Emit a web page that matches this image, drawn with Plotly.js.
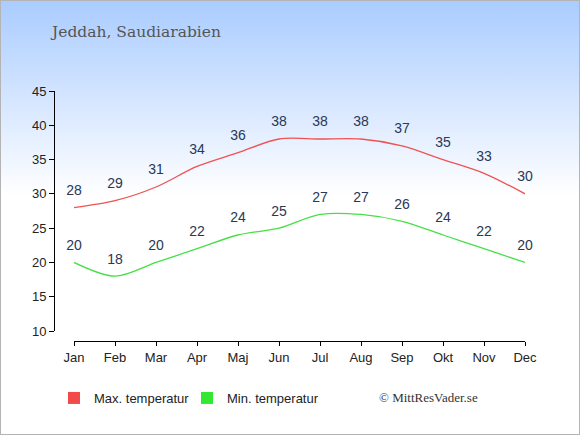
<!DOCTYPE html>
<html>
<head>
<meta charset="utf-8">
<script src="https://cdn.plot.ly/plotly-3.0.1.min.js"></script>
<style>
  html, body { margin: 0; padding: 0; }
  #bg { position: absolute; left: 0; top: 0; width: 580px; height: 435px; box-sizing: border-box;
        border: 1px solid #b4b4b4; background: linear-gradient(to bottom, #aaccff 0px, #ffffff 195px, #ffffff 435px); }
  #chart { position: absolute; left: 0; top: 0; width: 580px; height: 435px; }
</style>
</head>
<body>
<div id="bg"></div>
<div id="chart"></div>
<script>
const months = ["Jan","Feb","Mar","Apr","Maj","Jun","Jul","Aug","Sep","Okt","Nov","Dec"];
const maxTemp = [28, 29, 31, 34, 36, 38, 38, 38, 37, 35, 33, 30];
const minTemp = [20, 18, 20, 22, 24, 25, 27, 27, 26, 24, 22, 20];
const yTicks = [10, 15, 20, 25, 30, 35, 40, 45];
const titleText = "Jeddah, Saudiarabien";
const seriesNames = ["Max. temperatur", "Min. temperatur"];
const creditText = "© MittResVader.se";

const redLine = "#f05252", greenLine = "#46e046";
const redBox = "#f04a4a", greenBox = "#33e833";
const labelFont = {family: "Liberation Sans, Arial, sans-serif", size: 14, color: "#2a3855"};

function lineTrace(vals, color, name) {
  return {
    type: "scatter", x: months, y: vals, mode: "lines+markers+text",
    text: vals.map(String), textposition: "top center", textfont: labelFont,
    line: {color: color, width: 1.3, shape: "spline", smoothing: 0.9},
    marker: {size: 13, opacity: 0, color: color},
    showlegend: false, cliponaxis: false, name: name
  };
}
function legendTrace(color, name) {
  return {type: "bar", x: [months[0]], y: [null], name: name, marker: {color: color}, showlegend: true};
}

const data = [
  lineTrace(maxTemp, redLine, seriesNames[0]),
  lineTrace(minTemp, greenLine, seriesNames[1]),
  legendTrace(redBox, seriesNames[0]),
  legendTrace(greenBox, seriesNames[1])
];

const axisFont = {family: "Liberation Sans, Arial, sans-serif", size: 13, color: "#222"};
const layout = {
  width: 580, height: 435,
  paper_bgcolor: "rgba(0,0,0,0)", plot_bgcolor: "rgba(0,0,0,0)",
  margin: {l: 54, r: 55, t: 91, b: 94},
  title: {text: titleText, xref: "container", yref: "container", x: 52/580, xanchor: "left",
          y: 1 - 32/435, yanchor: "middle",
          font: {family: "DejaVu Serif, serif", size: 15.5, color: "#555"}},
  xaxis: {type: "category", range: [0, 11], domain: [20/471, 1], anchor: "free", position: 0,
          showline: true, linecolor: "#000", linewidth: 1, ticks: "outside", ticklen: 4,
          tickcolor: "#000", showgrid: false, zeroline: false, tickfont: axisFont, fixedrange: true},
  yaxis: {range: [10, 45], tickvals: yTicks, domain: [10/250, 1], anchor: "free", position: 0,
          showline: true, linecolor: "#000", linewidth: 1, ticks: "outside", ticklen: 5,
          tickcolor: "#000", showgrid: false, zeroline: false, tickfont: axisFont, fixedrange: true},
  showlegend: true,
  legend: {orientation: "h", x: 0, xanchor: "left", y: (341 - 398)/250, yanchor: "middle",
           font: {family: "Liberation Sans, Arial, sans-serif", size: 13, color: "#222"},
           bgcolor: "rgba(0,0,0,0)", entrywidth: 88, entrywidthmode: "pixels", itemclick: false},
  annotations: [{text: creditText, xref: "paper", yref: "paper", x: (377 - 54)/471, xanchor: "left",
                 y: (341 - 397)/250, yanchor: "middle", showarrow: false,
                 font: {family: "Liberation Serif, serif", size: 13, color: "#333"}}],
  hovermode: false
};

Plotly.newPlot("chart", data, layout, {displayModeBar: false, staticPlot: true});
</script>
</body>
</html>
